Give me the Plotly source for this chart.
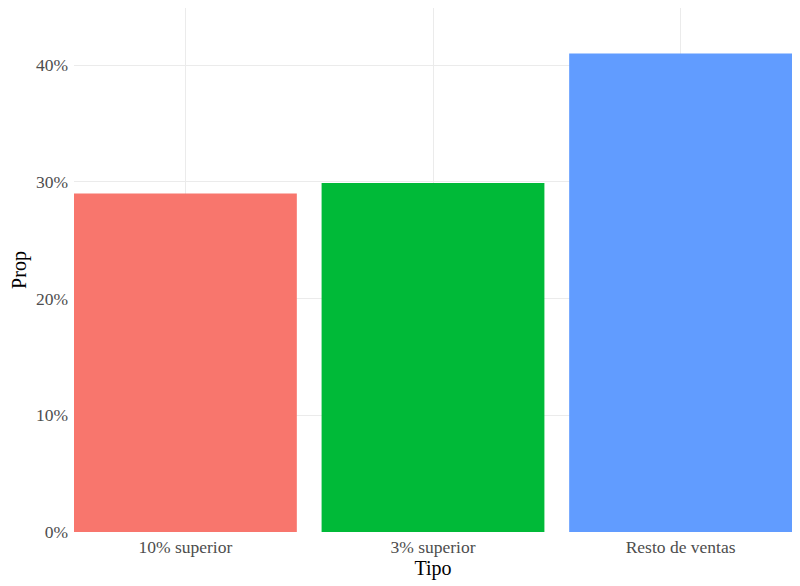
import plotly.graph_objects as go

# categories and proportions
tipos = ["10% superior", "3% superior", "Resto de ventas"]
props = [0.29, 0.299, 0.41]
colores = ["#F8766D", "#00BA38", "#619CFF"]
y_ticks = [0, 0.1, 0.2, 0.3, 0.4]
y_labels = ["0%", "10%", "20%", "30%", "40%"]

fig = go.Figure(go.Bar(
    x=tipos, y=props, marker=dict(color=colores, line=dict(width=0)),
    width=0.9, showlegend=False, hoverinfo="skip"))

axis_font = dict(family="Liberation Serif", size=17.5, color="#4D4D4D")
title_font = dict(family="Liberation Serif", size=20, color="black")
# the page body has an 8px margin, so the margins are shifted by that much
fig.update_layout(
    width=800, height=586,
    margin=dict(l=66, r=16, t=0, b=62),
    paper_bgcolor="white", plot_bgcolor="white",
    font=dict(family="Liberation Serif"),
    bargap=0.1,
)
fig.update_xaxes(
    range=[-0.45, 2.45], showgrid=True, gridcolor="#EBEBEB", gridwidth=1,
    tickfont=axis_font, ticks="", zeroline=False, showline=False,
    automargin=False, ticklabelstandoff=2,
    title=dict(text="Tipo", font=title_font, standoff=0),
)
fig.update_yaxes(
    range=[0, 0.449], tickvals=y_ticks, ticktext=y_labels,
    showgrid=True, gridcolor="#EBEBEB", gridwidth=1, zeroline=False,
    tickfont=axis_font, ticks="", showline=False,
    automargin=False, ticklabelstandoff=5,
    title=dict(text="Prop", font=title_font, standoff=8),
)
fig.write_html("out.html")
